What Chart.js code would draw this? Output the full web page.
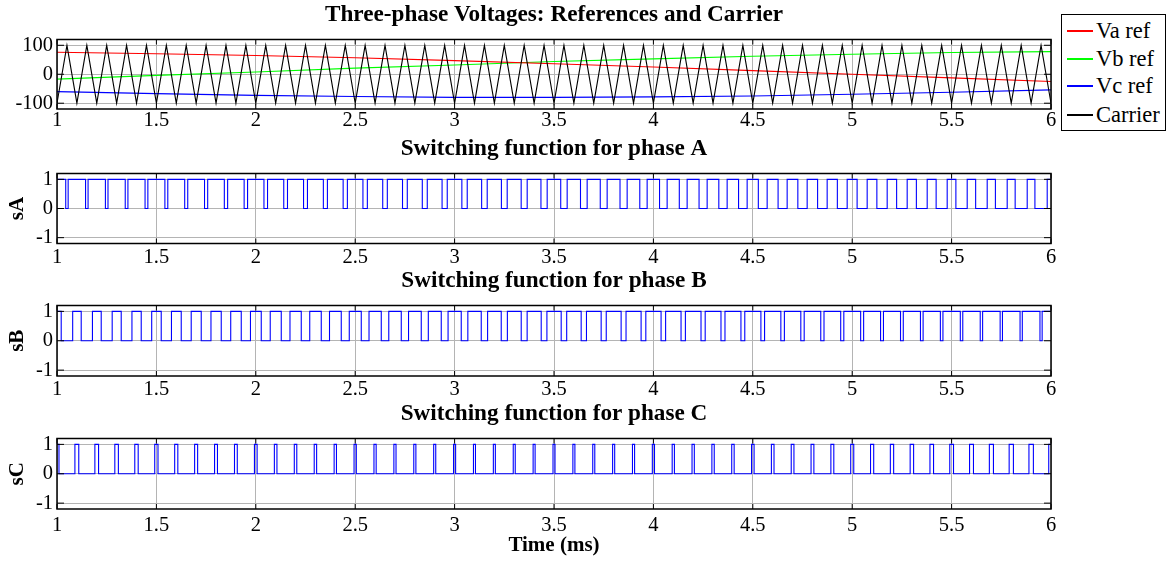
<!DOCTYPE html>
<html>
<head>
<meta charset="utf-8">
<title>Three-phase Voltages: References and Carrier</title>
<script src="https://cdn.jsdelivr.net/npm/chart.js"></script>
<style>
    body { margin: 0; background: #fff; width: 1166px; height: 562px; overflow: hidden; position: relative;
           font-family: 'Liberation Serif', 'Times New Roman', serif; }
    canvas { position: absolute; left: 0; }
    #legend { position: absolute; left: 1061px; top: 14px; width: 103px; height: 115px; border: 1px solid #000; background: #fff; z-index: 5; }
    .item { position: absolute; left: 0; height: 28px; font-size: 22.5px; line-height: 28px; color: #000; }
    .item i { position: absolute; left: 5px; top: 13px; width: 26px; height: 2px; }
    .item span { position: absolute; left: 34px; white-space: nowrap; }
</style>
</head>
<body>
<canvas id="cV" width="1166" height="135" style="top:0px"></canvas>
<canvas id="cA" width="1166" height="136" style="top:134px"></canvas>
<canvas id="cB" width="1166" height="136" style="top:266px"></canvas>
<canvas id="cC" width="1166" height="163" style="top:399px"></canvas>
<div id="legend"></div>

<script>
// time axis (ms)
const xTicks = [1, 1.5, 2, 2.5, 3, 3.5, 4, 4.5, 5, 5.5, 6];
const xTickLabels = ['1', '1.5', '2', '2.5', '3', '3.5', '4', '4.5', '5', '5.5', '6'];
const vTicks = [-100, 0, 100];
const sTicks = [-1, 0, 1];

// reference voltages, read every 0.5 ms
const refTimes = [1, 1.5, 2, 2.5, 3, 3.5, 4, 4.5, 5, 5.5, 6];
const vaRef = [76, 71, 65, 57, 47, 36, 25, 12.5, 0, -12.5, -25];
const vbRef = [-17, -4, 8, 21, 32, 44, 53, 62, 69, 75, 78];
const vcRef = [-60, -67, -73, -77, -80, -80, -78, -75, -69, -62, -54];

// triangular carrier vertices
const carrierTimes = [
    1, 1.05, 1.1, 1.15, 1.2, 1.25, 1.3, 1.35, 1.4, 1.45,
    1.5, 1.55, 1.6, 1.65, 1.7, 1.75, 1.8, 1.85, 1.9, 1.95,
    2, 2.05, 2.1, 2.15, 2.2, 2.25, 2.3, 2.35, 2.4, 2.45,
    2.5, 2.55, 2.6, 2.65, 2.7, 2.75, 2.8, 2.85, 2.9, 2.95,
    3, 3.05, 3.1, 3.15, 3.2, 3.25, 3.3, 3.35, 3.4, 3.45,
    3.5, 3.55, 3.6, 3.65, 3.7, 3.75, 3.8, 3.85, 3.9, 3.95,
    4, 4.05, 4.1, 4.15, 4.2, 4.25, 4.3, 4.35, 4.4, 4.45,
    4.5, 4.55, 4.6, 4.65, 4.7, 4.75, 4.8, 4.85, 4.9, 4.95,
    5, 5.05, 5.1, 5.15, 5.2, 5.25, 5.3, 5.35, 5.4, 5.45,
    5.5, 5.55, 5.6, 5.65, 5.7, 5.75, 5.8, 5.85, 5.9, 5.95,
    6
];
const carrierLevels = [
    -100, 100, -100, 100, -100, 100, -100, 100, -100, 100,
    -100, 100, -100, 100, -100, 100, -100, 100, -100, 100,
    -100, 100, -100, 100, -100, 100, -100, 100, -100, 100,
    -100, 100, -100, 100, -100, 100, -100, 100, -100, 100,
    -100, 100, -100, 100, -100, 100, -100, 100, -100, 100,
    -100, 100, -100, 100, -100, 100, -100, 100, -100, 100,
    -100, 100, -100, 100, -100, 100, -100, 100, -100, 100,
    -100, 100, -100, 100, -100, 100, -100, 100, -100, 100,
    -100, 100, -100, 100, -100, 100, -100, 100, -100, 100,
    -100, 100, -100, 100, -100, 100, -100, 100, -100, 100,
    -100
];

// width (ms) of the 0 state around each carrier peak
const offA = [
    0.0122, 0.0126, 0.0130, 0.0135, 0.0141, 0.0146, 0.0153, 0.0159, 0.0166, 0.0173,
    0.0180, 0.0188, 0.0196, 0.0204, 0.0213, 0.0222, 0.0231, 0.0240, 0.0250, 0.0260,
    0.0270, 0.0280, 0.0291, 0.0302, 0.0313, 0.0324, 0.0335, 0.0347, 0.0359, 0.0370,
    0.0382, 0.0394, 0.0407, 0.0419, 0.0431, 0.0444, 0.0456, 0.0469, 0.0481, 0.0494,
    0.0506, 0.0519, 0.0531, 0.0544, 0.0556, 0.0569, 0.0581, 0.0593, 0.0606, 0.0618
];
const offB = [
    0.0577, 0.0565, 0.0552, 0.0540, 0.0527, 0.0515, 0.0502, 0.0490, 0.0477, 0.0464,
    0.0452, 0.0439, 0.0427, 0.0415, 0.0403, 0.0390, 0.0378, 0.0366, 0.0355, 0.0343,
    0.0332, 0.0320, 0.0309, 0.0298, 0.0287, 0.0277, 0.0267, 0.0256, 0.0247, 0.0237,
    0.0228, 0.0219, 0.0210, 0.0201, 0.0193, 0.0185, 0.0178, 0.0170, 0.0163, 0.0157,
    0.0150, 0.0145, 0.0139, 0.0134, 0.0129, 0.0124, 0.0120, 0.0116, 0.0113, 0.0110
];
const offC = [
    0.0801, 0.0810, 0.0817, 0.0825, 0.0832, 0.0839, 0.0845, 0.0852, 0.0857, 0.0863,
    0.0868, 0.0873, 0.0877, 0.0881, 0.0885, 0.0888, 0.0891, 0.0893, 0.0895, 0.0897,
    0.0898, 0.0899, 0.0900, 0.0900, 0.0900, 0.0899, 0.0898, 0.0897, 0.0895, 0.0893,
    0.0890, 0.0887, 0.0884, 0.0880, 0.0876, 0.0871, 0.0866, 0.0861, 0.0855, 0.0850,
    0.0843, 0.0837, 0.0830, 0.0822, 0.0815, 0.0807, 0.0799, 0.0790, 0.0781, 0.0772
];

const refNames = ['Va ref', 'Vb ref', 'Vc ref', 'Carrier'];
const refColors = ['#ff0000', '#00ff00', '#0000ff', '#000000'];

Chart.defaults.font.family = "'Liberation Serif', 'Times New Roman', serif";
Chart.defaults.color = '#000';

const GRID = '#b4b4b4';

// box round the axes plus inward tick marks, like matlab
const framePlugin = {
    id: 'frame',
    afterDatasetsDraw(chart) {
        const { ctx, chartArea: a, scales } = chart;
        ctx.save();
        ctx.strokeStyle = '#000';
        ctx.lineWidth = 1;
        ctx.beginPath();
        scales.x.ticks.forEach(t => {
            const px = scales.x.getPixelForValue(t.value);
            ctx.moveTo(px, a.bottom); ctx.lineTo(px, a.bottom - 5);
            ctx.moveTo(px, a.top); ctx.lineTo(px, a.top + 5);
        });
        scales.y.ticks.forEach(t => {
            const py = scales.y.getPixelForValue(t.value);
            ctx.moveTo(a.left, py); ctx.lineTo(a.left + 7, py);
            ctx.moveTo(a.right, py); ctx.lineTo(a.right - 7, py);
        });
        ctx.stroke();
        ctx.lineWidth = 1.5;
        ctx.strokeRect(a.left, a.top, a.right - a.left, a.bottom - a.top);
        ctx.restore();
    }
};

function switchingPoints(offWidth) {
    const peaks = carrierTimes.filter((t, i) => carrierLevels[i] > 0);
    const pts = [{ x: carrierTimes[0], y: 1 }];
    peaks.forEach((p, k) => {
        const a = p - offWidth[k] / 2, b = p + offWidth[k] / 2;
        pts.push({ x: a, y: 1 }, { x: a, y: 0 }, { x: b, y: 0 }, { x: b, y: 1 });
    });
    pts.push({ x: carrierTimes[carrierTimes.length - 1], y: 1 });
    return pts;
}

function makeChart(id, cfg) {
    return new Chart(document.getElementById(id), {
        type: 'line',
        data: { datasets: cfg.datasets },
        options: {
            responsive: false,
            animation: false,
            events: [],
            layout: { padding: { top: 3, right: 115, left: 0, bottom: 0 } },
            elements: { point: { radius: 0 }, line: { tension: 0, borderWidth: 1.1 } },
            plugins: {
                legend: { display: false },
                tooltip: { enabled: false },
                title: {
                    display: true, text: cfg.title, fullSize: false, color: '#000',
                    font: { size: 23.2, weight: 'bold', lineHeight: 1 },
                    padding: { top: 0, bottom: 13.3 }
                }
            },
            scales: {
                x: {
                    type: 'linear', min: 1, max: 6,
                    afterFit: s => { s.height = cfg.xHeight; },
                    afterBuildTicks: s => { s.ticks = xTicks.map(v => ({ value: v })); },
                    grid: { color: GRID, drawTicks: false },
                    border: { display: false },
                    ticks: {
                        padding: cfg.xPad, maxRotation: 0, autoSkip: false,
                        font: { size: 20.5, lineHeight: 1 },
                        callback: v => xTickLabels[xTicks.indexOf(v)]
                    },
                    title: cfg.xTitle
                        ? { display: true, text: cfg.xTitle, font: { size: 21, weight: 'bold', lineHeight: 1 }, padding: { top: 0, bottom: 5.5 } }
                        : { display: false }
                },
                y: {
                    min: cfg.yMin, max: cfg.yMax,
                    afterFit: s => { s.width = 57; },
                    afterBuildTicks: s => { s.ticks = cfg.yTicks.map(v => ({ value: v })); },
                    grid: { color: GRID, drawTicks: false },
                    border: { display: false },
                    ticks: { padding: 4, font: { size: 20.5, lineHeight: 1 } },
                    title: cfg.yTitle
                        ? { display: true, text: cfg.yTitle, font: { size: 21, weight: 'bold', lineHeight: 1 }, padding: { top: 7, bottom: 0 } }
                        : { display: false }
                }
            }
        },
        plugins: [framePlugin]
    });
}

const toXY = (xs, ys) => xs.map((x, i) => ({ x: x, y: ys[i] }));

makeChart('cV', {
    title: 'Three-phase Voltages: References and Carrier',
    xHeight: 26, xPad: 1, yMin: -120, yMax: 120, yTicks: vTicks,
    datasets: [
        { label: refNames[0], data: toXY(refTimes, vaRef), borderColor: refColors[0], order: 1 },
        { label: refNames[1], data: toXY(refTimes, vbRef), borderColor: refColors[1], order: 1 },
        { label: refNames[2], data: toXY(refTimes, vcRef), borderColor: refColors[2], order: 1 },
        { label: refNames[3], data: toXY(carrierTimes, carrierLevels), borderColor: refColors[3], order: 0 }
    ]
});

const phases = [
    { id: 'cA', name: 'A', off: offA, xHeight: 26.5, xPad: 3.75 },
    { id: 'cB', name: 'B', off: offB, xHeight: 26, xPad: 3 },
    { id: 'cC', name: 'C', off: offC, xHeight: 53, xPad: 6, xTitle: 'Time (ms)' }
];
phases.forEach(p => {
    makeChart(p.id, {
        title: 'Switching function for phase ' + p.name,
        xHeight: p.xHeight, xPad: p.xPad, xTitle: p.xTitle,
        yMin: -1.2, yMax: 1.2, yTicks: sTicks, yTitle: 's' + p.name,
        datasets: [{ label: 's' + p.name, data: switchingPoints(p.off), borderColor: '#0000ff' }]
    });
});

// legend box, drawn as html to sit where matlab puts it
const legend = document.getElementById('legend');
refNames.forEach((name, i) => {
    const row = document.createElement('div');
    row.className = 'item';
    row.style.top = [2, 30, 57, 86][i] + 'px';
    row.innerHTML = '<i style="background:' + refColors[i] + '"></i><span>' + name + '</span>';
    legend.appendChild(row);
});
</script>
</body>
</html>
